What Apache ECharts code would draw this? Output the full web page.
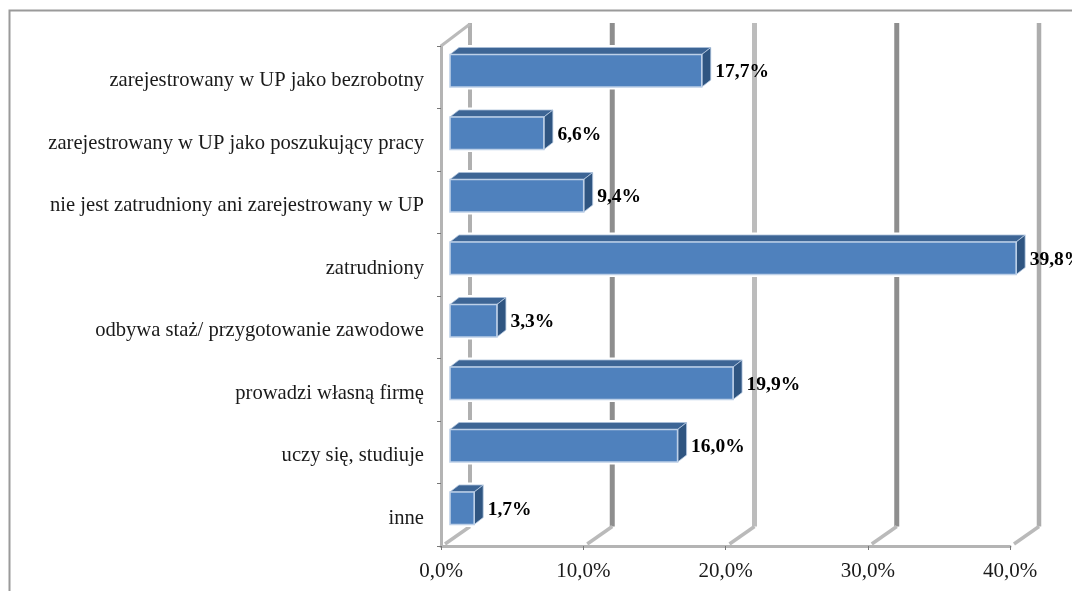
<!DOCTYPE html>
<html><head><meta charset="utf-8">
<style>html,body{margin:0;padding:0;background:#fff}#c{width:1072px;height:591px}</style>
<script src="https://cdn.jsdelivr.net/npm/echarts@6/dist/echarts.min.js"></script>
</head><body><div id="c"></div>
<script>
var categories = ['zarejestrowany w UP jako bezrobotny','zarejestrowany w UP jako poszukujący pracy','nie jest zatrudniony ani zarejestrowany w UP','zatrudniony','odbywa staż/ przygotowanie zawodowe','prowadzi własną firmę','uczy się, studiuje','inne'];
var values = [17.7,6.6,9.4,39.8,3.3,19.9,16.0,1.7];
var wallTicks = [0,10,20,30,40];
var FONT = '"Liberation Serif","DejaVu Serif",serif';
function fmt(v){return v.toFixed(1).replace('.',',')+'%';}
var wallX=29, wallY=-19.5;
var wallStyles=[['#b0b0b0',4],['#8e8e8e',5],['#bcbcbc',5],['#8e8e8e',5],['#adadad',4.5]];
var chart = echarts.init(document.getElementById('c'),null,{renderer:'canvas'});
chart.setOption({
  animation:false,
  backgroundColor:'#fff',
  graphic:[{type:'rect',z:-10,shape:{x:9.5,y:10.5,width:1200,height:800},style:{fill:'none',stroke:'#9a9a9a',lineWidth:2}}],
  grid:{left:441,right:62,top:46,bottom:45,containLabel:false},
  xAxis:{type:'value',min:0,max:40,interval:10,
    axisLine:{show:true,lineStyle:{color:'#b4b4b4',width:3}},
    axisTick:{show:true,length:4,lineStyle:{color:'#777',width:1}},
    splitLine:{show:false},
    axisLabel:{margin:15,color:'#1a1a1a',fontFamily:FONT,fontSize:21,formatter:function(v){return fmt(v);}}},
  yAxis:{type:'category',inverse:true,data:categories,
    axisLine:{show:true,lineStyle:{color:'#b4b4b4',width:3}},
    axisTick:{show:true,length:4,lineStyle:{color:'#777',width:1}},
    axisLabel:{margin:17,color:'#1a1a1a',fontFamily:FONT,fontSize:20.6,verticalAlign:'top',lineHeight:7}},
  series:[
  {type:'custom',z:1,silent:true,coordinateSystem:'cartesian2d',clip:false,
   encode:{x:0},data:wallTicks.map(function(t){return [t,0];}),
   renderItem:function(p,api){
     var v=api.value(0), i=p.dataIndex, s=wallStyles[i];
     var x=api.coord([v,0])[0], cs=p.coordSys, top=cs.y, bot=cs.y+cs.height;
     var children=[
      {type:'line',shape:{x1:x+wallX,y1:top-23,x2:x+wallX,y2:bot+wallY},style:{stroke:s[0],lineWidth:s[1],fill:null}},
      {type:'line',shape:{x1:x+4,y1:bot-2,x2:x+wallX,y2:bot+wallY},style:{stroke:'#bababa',lineWidth:3.5,fill:null}}
     ];
     if(i===0) children.push({type:'line',shape:{x1:x,y1:top,x2:x+wallX,y2:top-22},style:{stroke:'#bababa',lineWidth:3,fill:null}});
     return {type:'group',children:children};
   }},
  {type:'custom',z:3,silent:true,coordinateSystem:'cartesian2d',clip:false,
   encode:{x:0,y:1},data:values.map(function(v,i){return [v,i];}),
   renderItem:function(p,api){
     var v=api.value(0), idx=api.value(1);
     var c0=api.coord([0,idx]), c1=api.coord([v,idx]);
     var band=api.size([0,1])[1], h=band*0.52;
     var xl=c0[0]+9, xr=c1[0]+9, cy=c0[1]-6.5, yt=cy-h/2, yb=cy+h/2, dx=9, dy=-7;
     var outline=[[xl,yb],[xl,yt],[xl+dx,yt+dy],[xr+dx,yt+dy],[xr+dx,yb+dy],[xr,yb]];
     return {type:'group',children:[
       {type:'polygon',shape:{points:outline},style:{fill:'#fff',stroke:'#fff',lineWidth:5,lineJoin:'round'}},
       {type:'polygon',shape:{points:[[xl,yt],[xl+dx,yt+dy],[xr+dx,yt+dy],[xr,yt]]},style:{fill:'#3d6595',stroke:'#a9bfd9',lineWidth:0.8}},
       {type:'polygon',shape:{points:[[xr,yt],[xr+dx,yt+dy],[xr+dx,yb+dy],[xr,yb]]},style:{fill:'#2f5581',stroke:'#b9cce3',lineWidth:0.8}},
       {type:'rect',shape:{x:xl,y:yt,width:xr-xl,height:h},style:{fill:'#4f81bd',stroke:'#bdd0e8',lineWidth:1.6}},
       {type:'text',style:{text:fmt(v),x:xr+13.5,y:cy+1.5,fill:'#000',font:'bold 19.5px '+FONT,align:'left',verticalAlign:'middle'}}
     ]};
   }}
  ]
});
</script></body></html>
